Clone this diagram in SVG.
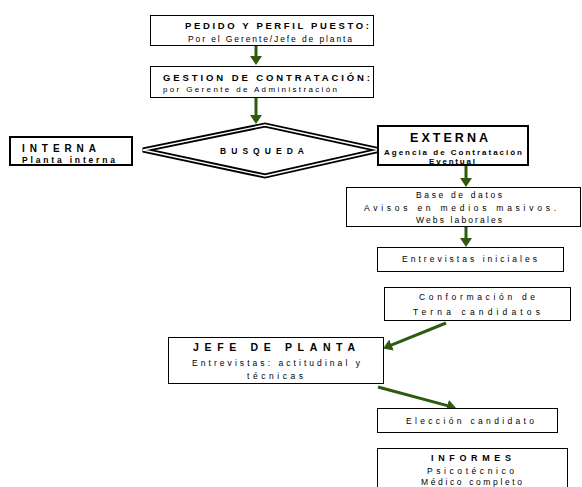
<svg xmlns="http://www.w3.org/2000/svg" width="582" height="487" viewBox="0 0 582 487">
<style>
text{font-family:"Liberation Sans",Arial,sans-serif;fill:#000}
.b{font-weight:bold}
.box{fill:#fff;stroke:#000;stroke-width:1}
.thick{fill:#fff;stroke:#000;stroke-width:2}
.arr{stroke:#2e5b0d;stroke-width:3;fill:none;marker-end:url(#ah)}
</style>
<defs>
<marker id="ah" viewBox="0 0 9 12" refX="1" refY="6" markerWidth="9" markerHeight="12" markerUnits="userSpaceOnUse" orient="auto">
<path d="M0,0 L9,6 L0,12 z" fill="#2e5b0d"/>
</marker>
</defs>
<rect width="582" height="487" fill="#fff"/>
<g id="connectors">
<line class="arr" x1="256" y1="45" x2="256" y2="57"/>
<line class="arr" x1="256" y1="97" x2="256" y2="116"/>
<line class="arr" x1="466" y1="165" x2="466" y2="179"/>
<line class="arr" x1="466" y1="226" x2="466" y2="239"/>
<line class="arr" x1="446" y1="323" x2="390.6" y2="345.4"/>
<line class="arr" x1="378" y1="387" x2="448.3" y2="405.9"/>
</g>
<g id="pedido">
<rect class="box" x="150.5" y="15.5" width="223" height="30"/>
<text class="b" x="185" y="28.5" font-size="9.5" textLength="184" lengthAdjust="spacing">PEDIDO Y PERFIL PUESTO:</text>
<text x="188" y="42" font-size="8.5" textLength="164" lengthAdjust="spacing">Por el Gerente/Jefe de planta</text>
</g>
<g id="gestion">
<rect class="box" x="150.5" y="66.5" width="223" height="31"/>
<text class="b" x="163" y="81" font-size="9.5" textLength="207" lengthAdjust="spacing">GESTION DE CONTRATACIÓN:</text>
<text x="163" y="92" font-size="8" textLength="174" lengthAdjust="spacing">por Gerente de Administración</text>
</g>
<g id="busqueda">
<polygon points="143,150 265,125 380,150 265,176" fill="#fff" stroke="#000" stroke-width="5" stroke-linejoin="miter"/>
<polygon points="143,150 265,125 380,150 265,176" fill="none" stroke="#fff" stroke-width="1.3"/>
<text class="b" x="220" y="154" font-size="8.5" textLength="84" lengthAdjust="spacing">BUSQUEDA</text>
</g>
<g id="interna">
<rect class="thick" x="10" y="137" width="122" height="28"/>
<text class="b" x="22" y="151.5" font-size="10" textLength="74" lengthAdjust="spacing">INTERNA</text>
<text class="b" x="22" y="162.5" font-size="8.5" textLength="93" lengthAdjust="spacing">Planta interna</text>
</g>
<g id="externa">
<rect class="thick" x="378" y="126" width="150" height="39"/>
<text class="b" x="410" y="142" font-size="12.5" textLength="78" lengthAdjust="spacing">EXTERNA</text>
<text class="b" x="384" y="155" font-size="8" textLength="138" lengthAdjust="spacing">Agencia de Contratación</text>
<text class="b" x="429" y="164.3" font-size="8" textLength="46" lengthAdjust="spacing">Eventual</text>
</g>
<g id="base">
<rect class="box" x="346.5" y="187.5" width="234" height="39"/>
<text x="416" y="198" font-size="8.5" textLength="86" lengthAdjust="spacing">Base de datos</text>
<text x="364" y="210.5" font-size="8.5" textLength="192" lengthAdjust="spacing">Avisos en medios masivos.</text>
<text x="416" y="222.5" font-size="8.5" textLength="86" lengthAdjust="spacing">Webs laborales</text>
</g>
<g id="entrevistas">
<rect class="box" x="377.5" y="247.5" width="186" height="24"/>
<text x="402" y="262" font-size="8.5" textLength="135" lengthAdjust="spacing">Entrevistas iniciales</text>
</g>
<g id="conformacion">
<rect class="box" x="384.5" y="287.5" width="186" height="33"/>
<text x="419" y="300" font-size="8.5" textLength="116" lengthAdjust="spacing">Conformación de</text>
<text x="413" y="315" font-size="8.5" textLength="127" lengthAdjust="spacing">Terna candidatos</text>
</g>
<g id="jefe">
<rect class="box" x="168.5" y="337.5" width="215" height="46"/>
<text class="b" x="193" y="351" font-size="10.5" textLength="162" lengthAdjust="spacing">JEFE DE PLANTA</text>
<text x="192" y="366" font-size="8.5" textLength="168" lengthAdjust="spacing">Entrevistas: actitudinal y</text>
<text x="247" y="379" font-size="8.5" textLength="56" lengthAdjust="spacing">técnicas</text>
</g>
<g id="eleccion">
<rect class="box" x="377.5" y="408.5" width="180" height="24"/>
<text x="406" y="424" font-size="8.5" textLength="128" lengthAdjust="spacing">Elección candidato</text>
</g>
<g id="informes">
<rect class="box" x="377.5" y="448.5" width="190" height="45"/>
<text class="b" x="431" y="461" font-size="9" textLength="80" lengthAdjust="spacing">INFORMES</text>
<text x="427" y="474" font-size="8.5" textLength="87" lengthAdjust="spacing">Psicotécnico</text>
<text x="421" y="485" font-size="8.5" textLength="101" lengthAdjust="spacing">Médico completo</text>
</g>
</svg>
